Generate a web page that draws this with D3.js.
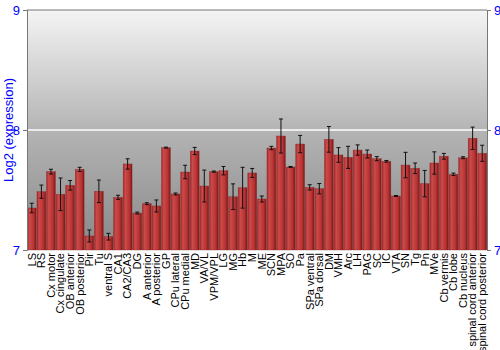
<!DOCTYPE html>
<html><head><meta charset="utf-8">
<script src="https://cdn.jsdelivr.net/npm/d3@7"></script>
<style>html,body{margin:0;padding:0;background:#fff;}svg{display:block;font-family:"Liberation Sans",Arial,sans-serif;}</style>
</head><body><svg id="c" width="500" height="350"></svg>
<script>
const categories = ["LS","RS","Cx motor","Cx cingulate","OB anterior","OB posterior","Pir","Tu","ventral S","CA1","CA2/CA3","DG","A anterior","A posterior","GP","CPu lateral","CPu medial","MD","VA/VL","VPM/VPL","LG","MG","Hb","M","ME","SCN","MPA","SO","Pa","SPa ventral","SPa dorsal","DM","VMH","Arc","LH","PAG","SC","IC","VTA","SN","Tg","Pn","MVe","Cb vermis","Cb lobe","Cb nucleus","spinal cord anterior","spinal cord posterior"];
const values = [7.35,7.486,7.653,7.464,7.539,7.672,7.117,7.489,7.111,7.439,7.717,7.308,7.386,7.367,7.853,7.467,7.65,7.825,7.533,7.653,7.661,7.444,7.519,7.642,7.425,7.85,7.95,7.692,7.883,7.522,7.511,7.922,7.792,7.772,7.833,7.8,7.761,7.739,7.45,7.708,7.681,7.553,7.725,7.781,7.631,7.769,7.931,7.806];
const errors = [0.04,0.055,0.02,0.136,0.04,0.017,0.05,0.094,0.028,0.017,0.043,0.008,0.008,0.05,0.004,0.008,0.056,0.03,0.133,0.005,0.035,0.107,0.17,0.0375,0.025,0.014,0.142,0.004,0.072,0.022,0.043,0.107,0.061,0.092,0.043,0.033,0.017,0.007,0.004,0.106,0.044,0.11,0.093,0.024,0.01,0.008,0.093,0.067];
const yTicks = [7,8,9];
const yTitle = "Log2 (expression)";

const svg = d3.select("#c");
const m = {l:27, r:13, t:10, b:100};
const W = 500, H = 350;
const x = d3.scaleBand().domain(categories).range([m.l, W-m.r]).paddingInner(0.08).paddingOuter(0.04);
const y = d3.scaleLinear().domain([7,9]).range([H-m.b, m.t]);

const defs = svg.append("defs");
const bg = defs.append("linearGradient").attr("id","bg").attr("x1",0).attr("x2",0).attr("y1",0).attr("y2",1);
bg.append("stop").attr("offset","0%").attr("stop-color","#f4f4f4");
bg.append("stop").attr("offset","50%").attr("stop-color","#b4b4b4");
bg.append("stop").attr("offset","100%").attr("stop-color","#888888");
const bar = defs.append("linearGradient").attr("id","bar").attr("x1",0).attr("x2",1).attr("y1",0).attr("y2",0);
bar.append("stop").attr("offset","0%").attr("stop-color","#a42a2a");
bar.append("stop").attr("offset","25%").attr("stop-color","#cc4a4a");
bar.append("stop").attr("offset","70%").attr("stop-color","#b83434");
bar.append("stop").attr("offset","100%").attr("stop-color","#7e1616");

svg.append("rect").attr("x",m.l).attr("y",m.t).attr("width",W-m.r-m.l).attr("height",H-m.b-m.t).attr("fill","url(#bg)");

// gridline at 8
svg.append("line").attr("x1",m.l).attr("x2",W-m.r).attr("y1",y(8)).attr("y2",y(8)).attr("stroke","#ffffff").attr("stroke-width",1.5);

// bars
svg.append("g").selectAll("rect").data(categories).join("rect")
  .attr("x",d=>x(d)).attr("width",x.bandwidth())
  .attr("y",(d,i)=>y(values[i])).attr("height",(d,i)=>y(7)-y(values[i]))
  .attr("fill","url(#bar)").attr("stroke","#8a2020").attr("stroke-opacity",0.6).attr("stroke-width",0.6);

// error bars
const eb = svg.append("g").attr("stroke","#111").attr("stroke-width",1);
categories.forEach((c,i)=>{
  const cx = x(c)+x.bandwidth()/2;
  const y1 = y(values[i]+errors[i]), y2 = y(values[i]-errors[i]);
  eb.append("line").attr("x1",cx).attr("x2",cx).attr("y1",y1).attr("y2",y2);
  eb.append("line").attr("x1",cx-2).attr("x2",cx+2).attr("y1",y1).attr("y2",y1);
  eb.append("line").attr("x1",cx-2).attr("x2",cx+2).attr("y1",y2).attr("y2",y2);
});

// axes
const left = svg.append("g").attr("transform",`translate(${m.l},0)`).call(d3.axisLeft(y).tickValues(yTicks).tickFormat(d3.format("d")).tickSize(4));
const right = svg.append("g").attr("transform",`translate(${W-m.r},0)`).call(d3.axisRight(y).tickValues(yTicks).tickFormat(d3.format("d")).tickSize(4));
[left,right].forEach(g=>{
  g.select(".domain").attr("stroke","#777");
  g.selectAll(".tick line").attr("stroke","#777");
  g.selectAll(".tick text").attr("fill","#0000ff").attr("font-size",13).attr("font-family","Liberation Sans, Arial, sans-serif");
});
svg.append("line").attr("x1",m.l).attr("x2",W-m.r).attr("y1",m.t).attr("y2",m.t).attr("stroke","#777");

// x labels
const xa = svg.append("g").attr("transform",`translate(0,${H-m.b})`).call(d3.axisBottom(x).tickSize(0).tickPadding(0));
xa.select(".domain").remove();
xa.selectAll(".tick text").attr("transform","rotate(-90)").attr("text-anchor","end").attr("dy","0.35em").attr("x",-3).attr("y",0)
  .attr("font-size",11).attr("fill","#000").attr("font-family","Liberation Sans, Arial, sans-serif");

svg.append("text").attr("transform",`translate(13,${(m.t+H-m.b)/2}) rotate(-90)`).attr("text-anchor","middle")
  .attr("fill","#0000ff").attr("font-size",13).text(yTitle);
</script></body></html>
